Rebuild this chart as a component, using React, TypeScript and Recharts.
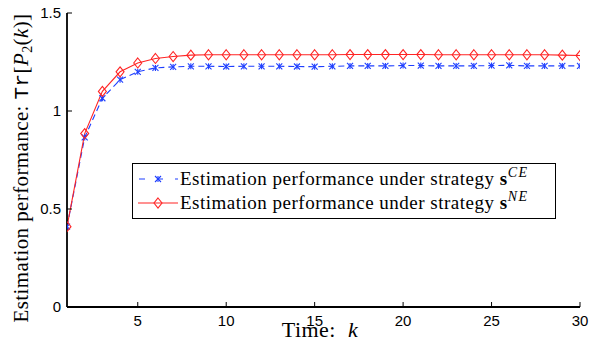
import React from 'react';
import { LineChart, Line, XAxis, YAxis, Legend } from 'recharts';

const steps = [1,2,3,4,5,6,7,8,9,10,11,12,13,14,15,16,17,18,19,20,21,22,23,24,25,26,27,28,29,30];
const perfCE = [0.41,0.865,1.065,1.16,1.2,1.22,1.225,1.228,1.228,1.227,1.228,1.228,1.228,1.227,1.226,1.228,1.23,1.23,1.23,1.232,1.232,1.23,1.23,1.23,1.232,1.233,1.23,1.23,1.23,1.23];
const perfNE = [0.41,0.885,1.1,1.2,1.245,1.268,1.278,1.285,1.287,1.287,1.287,1.287,1.287,1.287,1.287,1.287,1.288,1.288,1.288,1.288,1.288,1.287,1.287,1.287,1.287,1.287,1.287,1.287,1.285,1.283];
const xTicks = [5,10,15,20,25,30];
const yTicks = [0,0.5,1,1.5];
const seriesNames = ['Estimation performance under strategy ', 'Estimation performance under strategy '];
const seriesSups = ['CE', 'NE'];

const data = steps.map((k, i) => ({ k, ce: perfCE[i], ne: perfNE[i] }));

const BLUE = '#1f3fff';
const RED = '#ff2424';
const SERIF = '"Liberation Serif", "DejaVu Serif", serif';
const SANS = '"Liberation Sans", Arial, sans-serif';

const StarDot = (props: any) => {
  const { cx, cy } = props;
  if (cx == null || cy == null) return null;
  const s = 3;
  return (
    <g stroke={BLUE} strokeWidth={1.1}>
      <line x1={cx - s} y1={cy - s} x2={cx + s} y2={cy + s} />
      <line x1={cx - s} y1={cy + s} x2={cx + s} y2={cy - s} />
      <line x1={cx} y1={cy - s} x2={cx} y2={cy + s} />
    </g>
  );
};

const DiamondDot = (props: any) => {
  const { cx, cy } = props;
  if (cx == null || cy == null) return null;
  return (
    <polygon
      points={`${cx},${cy - 5} ${cx + 4},${cy} ${cx},${cy + 5} ${cx - 4},${cy}`}
      fill="none"
      stroke={RED}
      strokeWidth={1.1}
    />
  );
};

const renderLegend = () => (
  <div style={{ width: 422, height: 54, border: '1.3px solid #000', background: '#fff', boxSizing: 'content-box' }}>
    <svg width={422} height={54} style={{ display: 'block' }}>
      <line x1={5} y1={15} x2={45} y2={15} stroke={BLUE} strokeWidth={1.1} strokeDasharray="6 12" strokeDashoffset={-1} />
      <StarDot cx={25} cy={15} />
      <text x={47} y={21} fontFamily={SERIF} fontSize={19} letterSpacing={0.5} fill="#000">
        {seriesNames[0]}
        <tspan fontWeight="bold">s</tspan>
        <tspan fontStyle="italic" fontSize={14} letterSpacing={1.5} dy={-8}>{seriesSups[0]}</tspan>
      </text>
      <line x1={5} y1={39} x2={45} y2={39} stroke={RED} strokeWidth={1.1} />
      <DiamondDot cx={25} cy={39} />
      <text x={47} y={45} fontFamily={SERIF} fontSize={19} letterSpacing={0.5} fill="#000">
        {seriesNames[1]}
        <tspan fontWeight="bold">s</tspan>
        <tspan fontStyle="italic" fontSize={14} letterSpacing={1.5} dy={-8}>{seriesSups[1]}</tspan>
      </text>
    </svg>
  </div>
);

export default function App() {
  return (
    <div style={{ position: 'fixed', left: 0, top: 0, width: 590, height: 353, background: '#fff' }}>
      <LineChart width={590} height={353} data={data} margin={{ top: 13, right: 10, left: 0, bottom: 0 }}>
        <XAxis
          xAxisId="b"
          dataKey="k"
          type="number"
          domain={[1, 30]}
          ticks={xTicks}
          height={46}
          tickSize={-5}
          tickMargin={13}
          stroke="#000"
          axisLine={{ stroke: '#000', strokeWidth: 1.8 }}
          tickLine={{ stroke: '#000' }}
          tick={{ fill: '#000', fontSize: 15, fontFamily: SANS }}
          allowDataOverflow
        />
        <XAxis
          xAxisId="t"
          orientation="top"
          dataKey="k"
          type="number"
          domain={[1, 30]}
          ticks={xTicks}
          height={0}
          tickSize={-5}
          tick={false}
          stroke="#000"
          axisLine={{ stroke: '#000', strokeWidth: 1.8 }}
          tickLine={{ stroke: '#000' }}
        />
        <YAxis
          yAxisId="l"
          type="number"
          domain={[0, 1.5]}
          ticks={yTicks}
          width={67}
          tickSize={-5}
          tickMargin={11}
          tickFormatter={(v: number) => String(v)}
          stroke="#000"
          axisLine={{ stroke: '#000', strokeWidth: 1.8 }}
          tickLine={{ stroke: '#000' }}
          tick={{ fill: '#000', fontSize: 15, fontFamily: SANS }}
        />
        <YAxis
          yAxisId="r"
          orientation="right"
          type="number"
          domain={[0, 1.5]}
          ticks={yTicks}
          width={0}
          tickSize={-5}
          tick={false}
          stroke="#000"
          axisLine={{ stroke: '#000', strokeWidth: 1.8 }}
          tickLine={{ stroke: '#000' }}
        />
        <Legend
          layout="vertical"
          align="center"
          verticalAlign="middle"
          content={renderLegend}
          wrapperStyle={{ position: 'absolute', left: 132, top: 163, width: 424, height: 56 }}
        />
        <Line
          xAxisId="b"
          yAxisId="l"
          dataKey="ce"
          stroke={BLUE}
          strokeWidth={1.1}
          strokeDasharray="6 4"
          dot={<StarDot />}
          activeDot={false}
          isAnimationActive={false}
        />
        <Line
          xAxisId="b"
          yAxisId="l"
          dataKey="ne"
          stroke={RED}
          strokeWidth={1.1}
          dot={<DiamondDot />}
          activeDot={false}
          isAnimationActive={false}
        />
      </LineChart>
      <svg width={590} height={353} style={{ position: 'absolute', left: 0, top: 0, pointerEvents: 'none' }}>
        <text x={320} y={337} textAnchor="middle" fontFamily={SERIF} fontSize={22} letterSpacing={0.5} fill="#000">
          Time: <tspan fontStyle="italic" dx={6}>k</tspan>
        </text>
        <text
          transform="translate(28,168) rotate(-90)"
          textAnchor="middle"
          fontFamily={SERIF}
          fontSize={21}
          letterSpacing={0.4}
          fill="#000"
        >
          Estimation performance:{' '}
          <tspan fontFamily={'"Liberation Mono", monospace'}>Tr</tspan>[
          <tspan fontStyle="italic">P</tspan>
          <tspan fontSize={14} dy={4}>2</tspan>
          <tspan dy={-4}>(</tspan>
          <tspan fontStyle="italic">k</tspan>)]
        </text>
      </svg>
    </div>
  );
}
